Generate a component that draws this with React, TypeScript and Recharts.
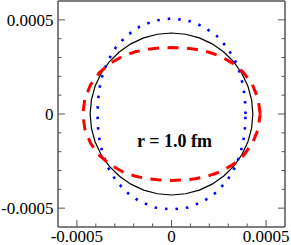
import React from 'react';
import { LineChart, Line, XAxis, YAxis } from 'recharts';

// Nuclear shape contours, r = 1.0 fm. Coordinates in units of 1e-4,
// read off the picture every 10 degrees round the origin.

const axisTicks = [-5, -4, -3, -2, -1, 0, 1, 2, 3, 4, 5];
const majorTicks = [-5, 0, 5];
const UNIT = 1e-4;

const sphere: [number, number][] = [
  [4.3, 0], [4.235, 0.747], [4.041, 1.471], [3.724, 2.15], [3.294, 2.764], [2.764, 3.294], [2.15, 3.724], [1.471, 4.041], [0.747, 4.235], [0, 4.3],
  [-0.747, 4.235], [-1.471, 4.041], [-2.15, 3.724], [-2.764, 3.294], [-3.294, 2.764], [-3.724, 2.15], [-4.041, 1.471], [-4.235, 0.747], [-4.3, 0],
  [-4.235, -0.747], [-4.041, -1.471], [-3.724, -2.15], [-3.294, -2.764], [-2.764, -3.294], [-2.15, -3.724], [-1.471, -4.041], [-0.747, -4.235], [0, -4.3],
  [0.747, -4.235], [1.471, -4.041], [2.15, -3.724], [2.764, -3.294], [3.294, -2.764], [3.724, -2.15], [4.041, -1.471], [4.235, -0.747], [4.3, 0],
];

const prolate: [number, number][] = [
  [3.913, 0], [3.888, 0.686], [3.805, 1.385], [3.64, 2.102], [3.365, 2.824], [2.953, 3.519], [2.392, 4.143], [1.689, 4.64], [0.875, 4.962], [0, 5.074],
  [-0.875, 4.962], [-1.689, 4.64], [-2.392, 4.143], [-2.953, 3.519], [-3.365, 2.824], [-3.64, 2.102], [-3.805, 1.385], [-3.888, 0.686], [-3.913, 0],
  [-3.888, -0.686], [-3.805, -1.385], [-3.64, -2.102], [-3.365, -2.824], [-2.953, -3.519], [-2.392, -4.143], [-1.689, -4.64], [-0.875, -4.962], [0, -5.074],
  [0.875, -4.962], [1.689, -4.64], [2.392, -4.143], [2.953, -3.519], [3.365, -2.824], [3.64, -2.102], [3.805, -1.385], [3.888, -0.686], [3.913, 0],
];

const oblate: [number, number][] = [
  [4.687, 0], [4.581, 0.808], [4.277, 1.557], [3.808, 2.199], [3.223, 2.704], [2.575, 3.069], [1.908, 3.305], [1.252, 3.441], [0.618, 3.507], [0, 3.526],
  [-0.618, 3.507], [-1.252, 3.441], [-1.908, 3.305], [-2.575, 3.069], [-3.223, 2.704], [-3.808, 2.199], [-4.277, 1.557], [-4.581, 0.808], [-4.687, 0],
  [-4.581, -0.808], [-4.277, -1.557], [-3.808, -2.199], [-3.223, -2.704], [-2.575, -3.069], [-1.908, -3.305], [-1.252, -3.441], [-0.618, -3.507], [0, -3.526],
  [0.618, -3.507], [1.252, -3.441], [1.908, -3.305], [2.575, -3.069], [3.223, -2.704], [3.808, -2.199], [4.277, -1.557], [4.581, -0.808], [4.687, 0],
];

const toRows = (pts: [number, number][]) => pts.map(([x, y]) => ({ x, y }));

const FONT = '"Liberation Serif", "Times New Roman", serif';
const FRAME = '#555';

const fmt = (v: number) => (v === 0 ? '0' : (v * UNIT).toFixed(4));

// ticks point into the plot; minor ones are shorter
const makeTick = (side: 'left' | 'right' | 'top' | 'bottom', labels: boolean) => (props: any) => {
  const { x, y, payload } = props;
  const v = payload.value;
  const major = majorTicks.includes(v);
  const len = major ? 7 : 3.5;
  let x2 = x;
  let y2 = y;
  if (side === 'left') x2 = x + len;
  if (side === 'right') x2 = x - len;
  if (side === 'top') y2 = y + len;
  if (side === 'bottom') y2 = y - len;
  return (
    <g>
      <line x1={x} y1={y} x2={x2} y2={y2} stroke={FRAME} strokeWidth={1} />
      {labels && major && side === 'left' && (
        <text x={x - 4.5} y={y} dy="0.35em" textAnchor="end" fontFamily={FONT} fontSize={17} fill="#000">
          {fmt(v)}
        </text>
      )}
      {labels && major && side === 'bottom' && (
        <text x={x} y={y + 15} textAnchor="middle" fontFamily={FONT} fontSize={17} fill="#000">
          {fmt(v)}
        </text>
      )}
    </g>
  );
};

const axisCommon = {
  type: 'number' as const,
  domain: [-6, 6],
  ticks: axisTicks,
  interval: 0,
  allowDataOverflow: true,
  tickLine: false,
  tickSize: 0,
  tickMargin: 0,
  axisLine: { stroke: FRAME, strokeWidth: 1.5 },
};

export default function App() {
  return (
    <div style={{ position: 'absolute', left: 0, top: 0, width: 291, height: 245 }}>
      <LineChart width={291} height={245} margin={{ top: 0, right: 0, bottom: 0, left: 0 }}>
        <XAxis {...axisCommon} xAxisId="bottom" dataKey="x" orientation="bottom" height={18} tick={makeTick('bottom', true)} />
        <XAxis {...axisCommon} xAxisId="top" orientation="top" height={1} tick={makeTick('top', false)} />
        <YAxis {...axisCommon} yAxisId="left" orientation="left" width={58} tick={makeTick('left', true)} />
        <YAxis {...axisCommon} yAxisId="right" orientation="right" width={6} tick={makeTick('right', false)} />
        <Line
          xAxisId="bottom"
          yAxisId="left"
          data={toRows(sphere)}
          dataKey="y"
          stroke="#000"
          strokeWidth={1.2}
          dot={false}
          type="linear"
          isAnimationActive={false}
        />
        <Line
          xAxisId="bottom"
          yAxisId="left"
          data={toRows(prolate)}
          dataKey="y"
          stroke="#0000ff"
          strokeWidth={2.6}
          strokeDasharray="2.5 8"
          dot={false}
          type="linear"
          isAnimationActive={false}
        />
        <Line
          xAxisId="bottom"
          yAxisId="left"
          data={toRows(oblate)}
          dataKey="y"
          stroke="#ff0000"
          strokeWidth={3}
          strokeDasharray="11 8.5"
          dot={false}
          type="linear"
          isAnimationActive={false}
        />
      </LineChart>
      <svg width={291} height={245} style={{ position: 'absolute', left: 0, top: 0, pointerEvents: 'none' }}>
        <text x={174.5} y={147} textAnchor="middle" fontFamily={FONT} fontSize={18} fontWeight="bold" fill="#000">
          r = 1.0 fm
        </text>
      </svg>
    </div>
  );
}
